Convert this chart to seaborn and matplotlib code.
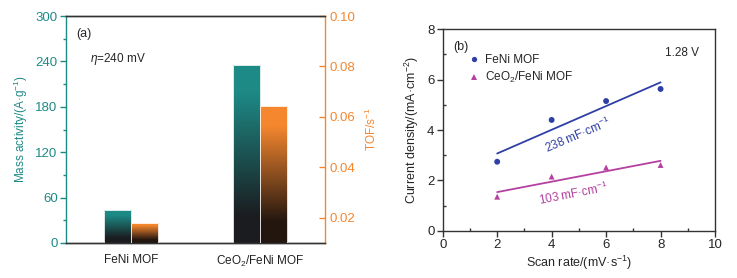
import numpy as np
import pandas as pd
import seaborn as sns
import matplotlib.pyplot as plt
from matplotlib.colors import LinearSegmentedColormap
from matplotlib.ticker import MultipleLocator, FormatStrFormatter

# panel (a) data
catalysts = ["FeNi MOF", "CeO$_2$/FeNi MOF"]
mass_activity = [43, 235]
tof = [0.018, 0.0645]

# panel (b) data
scan_rate = [2, 4, 6, 8]
j_feni = [2.74, 4.40, 5.15, 5.63]
j_ceo2 = [1.35, 2.15, 2.51, 2.61]
samples = ["FeNi MOF", "CeO$_2$/FeNi MOF"]
cdl_labels = ["238 mF·cm$^{-1}$", "103 mF·cm$^{-1}$"]

teal = "#1d8a86"
orange = "#f5872f"
blue = "#2f3fa5"
magenta = "#b5409f"
dark = "#333333"

sns.set_theme(style="ticks")
plt.rcParams["font.family"] = ["Liberation Sans", "DejaVu Sans"]
plt.rcParams["mathtext.fontset"] = "custom"
plt.rcParams["mathtext.rm"] = "Liberation Sans"
plt.rcParams["mathtext.it"] = "Liberation Sans:italic"
plt.rcParams["font.size"] = 8.5
fs = 8.5

fig = plt.figure(figsize=(7.37, 2.78), dpi=100)

# ---------- (a) bars on twin axes ----------
ax = fig.add_axes([0.0896, 0.1259, 0.3514, 0.8165])
ax2 = ax.twinx()

left_df = pd.DataFrame({"catalyst": catalysts, "metric": "mass", "value": mass_activity})
right_df = pd.DataFrame({"catalyst": catalysts, "metric": "tof", "value": tof})

sns.barplot(data=left_df, x="catalyst", y="value", hue="metric", order=catalysts,
            hue_order=["mass", "tof"], palette={"mass": teal, "tof": orange},
            width=0.42, dodge=True, legend=False, ax=ax)
sns.barplot(data=right_df, x="catalyst", y="value", hue="metric", order=catalysts,
            hue_order=["mass", "tof"], palette={"mass": teal, "tof": orange},
            width=0.42, dodge=True, legend=False, ax=ax2)

ax.set_xlim(-0.5, 1.5)
ax.set_ylim(0, 300)
ax2.set_ylim(0.01, 0.10)


def shade(axis, top_color, bottom_color):
    # vertical gradient: dark at the base, full colour near the top
    cmap = LinearSegmentedColormap.from_list(
        "g", [(0, bottom_color), (0.15, bottom_color), (0.85, top_color), (1, top_color)])
    grad = np.linspace(1, 0, 256).reshape(-1, 1)
    ybot = axis.get_ylim()[0]
    for p in list(axis.patches):
        x0, y0 = p.get_xy()
        w, h = p.get_width(), p.get_height()
        if not np.isfinite(h) or h == 0:
            continue
        lo = max(y0, ybot)
        im = axis.imshow(grad, extent=[x0, x0 + w, lo, y0 + h], aspect="auto",
                         cmap=cmap, origin="upper", zorder=2)
        im.set_clip_path(p)
        p.set_facecolor("none")
        p.set_edgecolor("white")
        p.set_linewidth(0.6)
        p.set_zorder(3)


shade(ax, teal, "#1b1c20")
shade(ax2, orange, "#22160f")

ax.set_xlim(-0.5, 1.5)
ax.set_ylim(0, 300)
ax2.set_ylim(0.01, 0.10)
ax.yaxis.set_major_locator(MultipleLocator(60))
ax.yaxis.set_minor_locator(MultipleLocator(30))
ax2.set_yticks([0.02, 0.04, 0.06, 0.08, 0.10])
ax2.yaxis.set_major_formatter(FormatStrFormatter("%.2f"))

ax.set_xlabel("")
ax.set_ylabel("Mass activity/(A·g$^{-1}$)", color=teal, fontsize=fs, labelpad=4)
ax2.set_ylabel("TOF/s$^{-1}$", color=orange, fontsize=fs, labelpad=6)

ax.tick_params(axis="y", which="major", direction="out", length=4, width=1,
               color=teal, labelcolor=teal, labelsize=fs + 1, pad=2)
ax.tick_params(axis="y", which="minor", direction="out", length=2, width=1, color=teal)
ax.tick_params(axis="x", length=0, labelsize=fs, pad=8, labelcolor="#222222")
ax2.tick_params(axis="y", which="major", direction="in", length=4, width=1,
                color=orange, labelcolor=orange, labelsize=fs + 1, pad=3)

for a in (ax, ax2):
    a.spines["top"].set_visible(True)
    a.spines["top"].set_color(dark)
    a.spines["bottom"].set_color(dark)
    for s in a.spines.values():
        s.set_linewidth(1)
ax.spines["left"].set_color(teal)
ax.spines["right"].set_visible(False)
ax2.spines["left"].set_visible(False)
ax2.spines["right"].set_visible(True)
ax2.spines["right"].set_color(orange)

ax.text(0.068, 0.92, "(a)", transform=ax.transAxes, fontsize=fs + 0.5, va="center", ha="center")
ax.text(0.093, 0.81, r"$\it{\eta}$=240 mV", transform=ax.transAxes, fontsize=fs, va="center", ha="left")

# ---------- (b) double-layer capacitance ----------
bx = fig.add_axes([0.6007, 0.1701, 0.3695, 0.7245])

ecsa = pd.DataFrame({
    "scan": scan_rate * 2,
    "j": j_feni + j_ceo2,
    "sample": [samples[0]] * len(scan_rate) + [samples[1]] * len(scan_rate),
})
pal = {samples[0]: blue, samples[1]: magenta}
sns.scatterplot(data=ecsa, x="scan", y="j", hue="sample", style="sample",
                markers={samples[0]: "o", samples[1]: "^"}, palette=pal,
                s=18, edgecolor="none", ax=bx, zorder=3)
for name in samples:
    sns.regplot(data=ecsa[ecsa["sample"] == name], x="scan", y="j", scatter=False,
                ci=None, color=pal[name], line_kws={"lw": 1.3}, ax=bx)

bx.set_xlim(0, 10)
bx.set_ylim(0, 8)
bx.xaxis.set_major_locator(MultipleLocator(2))
bx.xaxis.set_minor_locator(MultipleLocator(1))
bx.yaxis.set_major_locator(MultipleLocator(2))
bx.yaxis.set_minor_locator(MultipleLocator(1))
bx.tick_params(which="major", direction="out", length=4, width=1, color=dark,
               labelsize=fs + 1, pad=2)
bx.tick_params(which="minor", direction="in", length=2.5, width=1, color=dark)
for s in bx.spines.values():
    s.set_visible(True)
    s.set_color(dark)
    s.set_linewidth(1)

bx.set_xlabel("Scan rate/(mV·s$^{-1}$)", fontsize=fs + 0.5, labelpad=2)
bx.set_ylabel("Current density/(mA·cm$^{-2}$)", fontsize=fs + 0.5, labelpad=4)

bx.legend(loc="upper left", bbox_to_anchor=(0.065, 0.90), frameon=False, fontsize=fs,
          handletextpad=0.2, labelspacing=0.3, borderaxespad=0, handlelength=1.5,
          markerscale=0.9)

bx.text(0.67, 7.3, "(b)", fontsize=fs + 0.5, ha="center", va="center")
bx.text(8.8, 7.05, "1.28 V", fontsize=fs, ha="center", va="center")
bx.text(4.95, 3.78, cdl_labels[0], color=blue, fontsize=fs, rotation=23,
        rotation_mode="anchor", ha="center", va="center")
bx.text(4.8, 1.45, cdl_labels[1], color=magenta, fontsize=fs, rotation=11,
        rotation_mode="anchor", ha="center", va="center")

fig.savefig("out.png", dpi=100)
